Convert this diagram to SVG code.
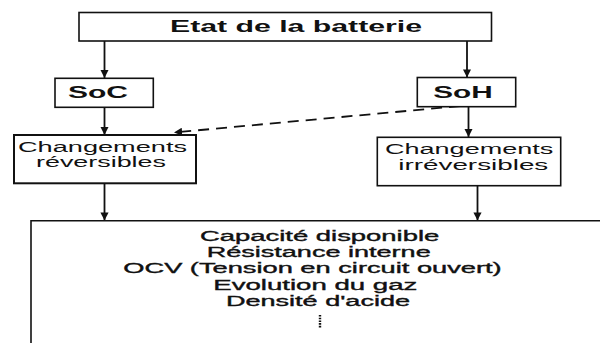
<svg xmlns="http://www.w3.org/2000/svg" width="600" height="343" viewBox="0 0 600 343">
<defs>
<style>
.box{fill:#fff;stroke:#111;stroke-width:1.6}
.ln{fill:none;stroke:#111;stroke-width:1.8}
.dash{fill:none;stroke:#111;stroke-width:1.8;stroke-dasharray:11 7}
.tb{font-family:"Liberation Sans",Arial,sans-serif;font-weight:bold;font-size:16px;fill:#111}
.tr{font-family:"Liberation Sans",Arial,sans-serif;font-size:14px;fill:#111}
.tm{font-family:"Liberation Sans",Arial,sans-serif;font-size:14px;fill:#111;stroke:#111;stroke-width:0.35}
</style>
<marker id="ah" viewBox="0 0 10 10" refX="10" refY="5" markerWidth="4.5" markerHeight="4.5" orient="auto" markerUnits="strokeWidth">
<path d="M0,0 L10,5 L0,10 Z" fill="#111"/>
</marker>
</defs>
<rect width="600" height="343" fill="#fff"/>
<g id="connectors">
<line class="ln" x1="104.5" y1="41" x2="104.5" y2="78" marker-end="url(#ah)"/>
<line class="ln" x1="467" y1="41" x2="467" y2="77.5" marker-end="url(#ah)"/>
<line class="ln" x1="104.5" y1="107" x2="104.5" y2="135" marker-end="url(#ah)"/>
<line class="ln" x1="468.5" y1="107" x2="468.5" y2="137" marker-end="url(#ah)"/>
<line class="dash" x1="460" y1="106" x2="174" y2="132.5" marker-end="url(#ah)"/>
<line class="ln" x1="104.5" y1="183.5" x2="104.5" y2="220.5" marker-end="url(#ah)"/>
<line class="ln" x1="477.5" y1="186" x2="477.5" y2="220.5" marker-end="url(#ah)"/>
</g>
<g id="etat">
<rect class="box" x="79" y="12.5" width="412.5" height="28.5"/>
<text class="tb" x="170" y="31.7" textLength="252" lengthAdjust="spacingAndGlyphs">Etat de la batterie</text>
</g>
<g id="soc">
<rect class="box" x="55" y="78.3" width="98.3" height="29"/>
<text class="tb" x="68" y="97.7" textLength="60" lengthAdjust="spacingAndGlyphs">SoC</text>
</g>
<g id="soh">
<rect class="box" x="417.3" y="77.5" width="98.4" height="29.2"/>
<text class="tb" x="433.3" y="97.7" textLength="59.4" lengthAdjust="spacingAndGlyphs">SoH</text>
</g>
<g id="rev">
<rect class="box" x="14" y="135" width="182" height="48.3" style="stroke-width:2"/>
<text class="tr" x="18" y="151.7" textLength="169" lengthAdjust="spacingAndGlyphs">Changements</text>
<text class="tr" x="36" y="166.7" textLength="130" lengthAdjust="spacingAndGlyphs">réversibles</text>
</g>
<g id="irrev">
<rect class="box" x="377.3" y="137.3" width="183.4" height="48.4"/>
<text class="tr" x="385" y="154.3" textLength="168.3" lengthAdjust="spacingAndGlyphs">Changements</text>
<text class="tr" x="398.3" y="170" textLength="150" lengthAdjust="spacingAndGlyphs">irréversibles</text>
</g>
<g id="parametres">
<path class="box" d="M31,345 V220.7 H602" style="fill:none"/>
<text class="tm" x="200" y="240.7" textLength="239.3" lengthAdjust="spacingAndGlyphs">Capacité disponible</text>
<text class="tm" x="206.7" y="256.7" textLength="224" lengthAdjust="spacingAndGlyphs">Résistance interne</text>
<text class="tm" x="123.3" y="272.5" textLength="378.4" lengthAdjust="spacingAndGlyphs">OCV (Tension en circuit ouvert)</text>
<text class="tm" x="213.3" y="290" textLength="204" lengthAdjust="spacingAndGlyphs">Evolution du gaz</text>
<text class="tm" x="226" y="306" textLength="184" lengthAdjust="spacingAndGlyphs">Densité d'acide</text>
<line x1="320" y1="315" x2="320" y2="328.5" style="stroke:#111;stroke-width:2.4;stroke-dasharray:1.6 1.1"/>
</g>
</svg>
